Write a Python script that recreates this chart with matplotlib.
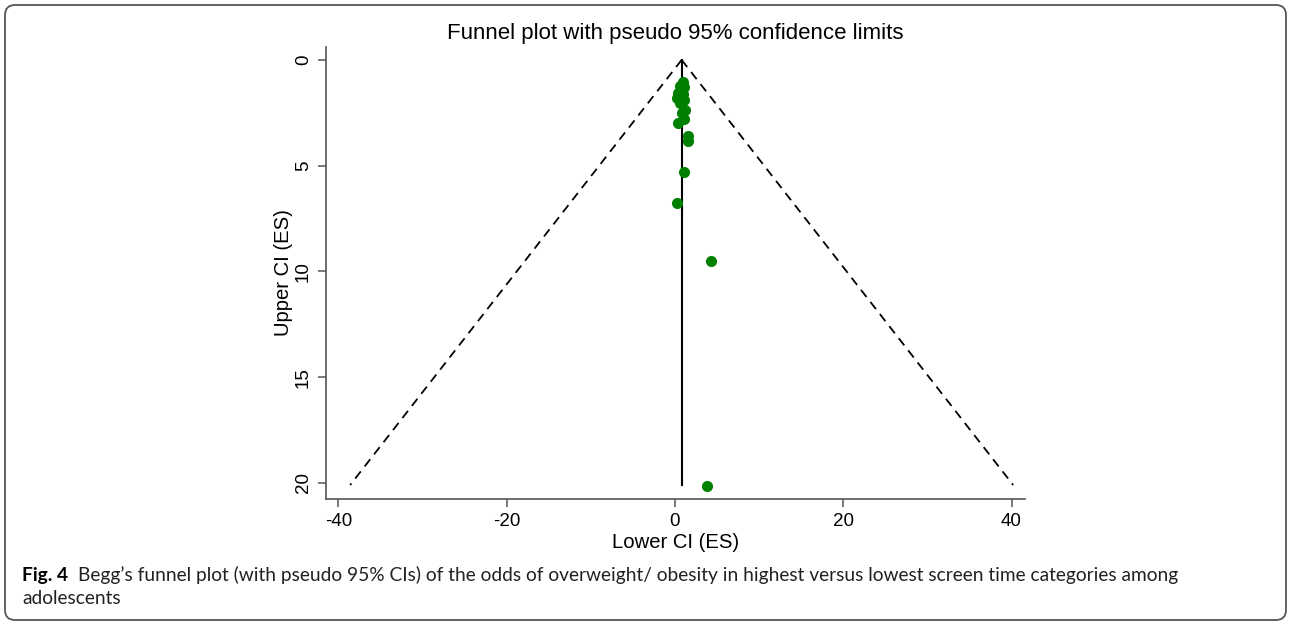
import matplotlib
matplotlib.use("Agg")
import matplotlib.pyplot as plt
from matplotlib.patches import FancyBboxPatch
import numpy as np

# ---- data ----
effect = [0.9, 0.6, 1.1, 0.4, 0.9, 0.3, 1.1, 0.6, 1.2, 0.8, 1.1, 0.4,
          1.5, 1.6, 1.07, 0.27, 4.28, 3.84]
std_err = [1.05, 1.25, 1.3, 1.55, 1.6, 1.8, 1.9, 2.05, 2.35, 2.5, 2.8, 3.0,
           3.6, 3.85, 5.28, 6.75, 9.52, 20.13]
pooled = 0.8
se_max = 20.1
z = 1.96

x_ticks = [-40, -20, 0, 20, 40]
y_ticks = [0, 5, 10, 15, 20]

title = "Funnel plot with pseudo 95% confidence limits"
xlabel = "Lower CI (ES)"
ylabel = "Upper CI (ES)"
cap_bold = "Fig. 4"
cap_line1 = "Begg\u2019s funnel plot (with pseudo 95% CIs) of the odds of overweight/ obesity in highest versus lowest screen time categories among"
cap_line2 = "adolescents"

W, H = 1290, 623
plt.rcParams['font.family'] = ['Liberation Sans', 'DejaVu Sans']
plt.rcParams['axes.unicode_minus'] = False
fig = plt.figure(figsize=(W / 100, H / 100), dpi=100)

ax = fig.add_axes([325.7 / W, 1 - 499 / H, (1025 - 325.7) / W, (499 - 47) / H])

# funnel limits
se_line = np.array([0, se_max])
ax.plot(pooled - z * se_line, se_line, color='black', lw=1.3, ls=(0, (5, 3.5)))
ax.plot(pooled + z * se_line, se_line, color='black', lw=1.3, ls=(0, (5, 3.5)))
ax.plot([pooled, pooled], [0, se_max], color='black', lw=1.5)

ax.scatter(effect, std_err, s=64, color='#008000', zorder=3, linewidths=0)

ax.set_xlim(-41.5, 41.6)
ax.set_ylim(20.76, -0.61)
ax.set_xticks(x_ticks)
ax.set_yticks(y_ticks)
for s in ['top', 'right']:
    ax.spines[s].set_visible(False)
for s in ['left', 'bottom']:
    ax.spines[s].set_color('#555555')
    ax.spines[s].set_linewidth(1.2)
ax.tick_params(direction='out', length=6, width=1.1, color='#555555',
               labelsize=13.5, pad=4)
for lbl in ax.get_yticklabels():
    lbl.set_rotation(90)
    lbl.set_va('center')
ax.set_title(title, fontsize=16, pad=6)
ax.set_xlabel(xlabel, fontsize=14.6, labelpad=2.5)
ax.set_ylabel(ylabel, fontsize=14.6, labelpad=1)

# caption
cap_font = ['Lato', 'DejaVu Sans']
x0 = 22
y1 = 1 - 575 / H
y2 = 1 - 598 / H
tb = fig.text(x0 / W, y1, cap_bold, fontsize=13.8, fontweight='bold',
              family=cap_font, va='center', ha='left')
renderer = fig.canvas.get_renderer()
bb = tb.get_window_extent(renderer=renderer)
fig.text((bb.x1 + 10) / W, y1, cap_line1, fontsize=13.8, family=cap_font,
         va='center', ha='left', color='#222222')
fig.text(x0 / W, y2, cap_line2, fontsize=13.8, family=cap_font,
         va='center', ha='left', color='#222222')

# rounded frame
frame = FancyBboxPatch((5, 3), 1281, 615, boxstyle="round,pad=0,rounding_size=10",
                       transform=None, fill=False, edgecolor='#555555', lw=1.3)
fig.patches.append(frame)

fig.savefig("out.png", dpi=100)
